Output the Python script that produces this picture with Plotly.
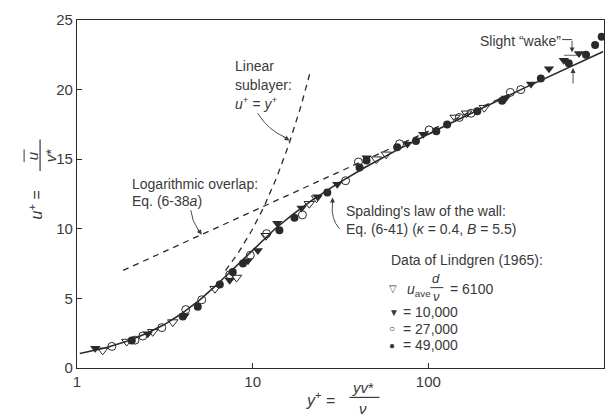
import numpy as np
import plotly.graph_objects as go

# ---------------- data ----------------
kappa = 0.4
B = 5.5

a_x = [1.40, 1.92, 2.70, 3.51, 6.1, 8.1, 11.9, 21.0, 23.1, 50.6, 57.5, 142, 165, 208]
a_y = [1.27, 1.9, 2.6, 3.3, 5.7, 6.5, 9.5, 11.8, 12.2, 15.0, 15.35, 18.0, 18.3, 18.7]

b_x = [1.27, 2.53, 4.1, 7.4, 9.4, 10.7, 13.8, 19.0, 23.4, 30.3, 44.5, 76, 93.5, 276, 384, 486, 590, 720]
b_y = [1.41, 2.46, 3.75, 6.3, 7.7, 8.45, 10.4, 11.5, 12.3, 13.2, 15.1, 16.1, 16.8, 19.4, 20.4, 21.5, 22.1, 22.6]

c_x = [1.58, 2.14, 2.37, 3.04, 4.16, 5.13, 7.4, 9.7, 12.0, 19.2, 33.8, 40, 68.6, 101, 150, 175, 293, 336]
c_y = [1.55, 2.0, 2.3, 2.9, 4.2, 4.9, 6.7, 8.1, 9.65, 11.0, 13.45, 14.8, 16.1, 17.1, 18.0, 18.3, 19.8, 20.0]

d_x = [2.05, 4.0, 4.87, 6.5, 7.7, 8.8, 14.2, 17.3, 26.6, 40.6, 44.5, 66.5, 85, 111, 128, 190, 263, 437, 630, 790, 890, 970]
d_y = [1.97, 3.7, 4.4, 6.0, 6.9, 7.5, 9.9, 10.8, 12.6, 14.4, 14.9, 15.85, 16.3, 17.0, 17.5, 18.45, 19.2, 20.8, 21.9, 22.5, 23.2, 23.8]

lin_range = [7.0, 21.3]
log_range = [1.83, 300]

x_ticks = [1, 10, 100, 1000]
x_ticklabels = ["1", "10", "100", "1000"]
y_ticks = [0, 5, 10, 15, 20, 25]

# ---------------- curves ----------------
up = np.linspace(0, 23, 600)
ku = kappa * up
yp = up + np.exp(-kappa * B) * (np.exp(ku) - 1 - ku - ku**2 / 2 - ku**3 / 6)
m = (yp >= 1) & (yp <= 1000)
spald_x, spald_y = yp[m], up[m]

lin_x = np.geomspace(lin_range[0], lin_range[1], 50)
lin_y = lin_x
log_x = np.geomspace(log_range[0], log_range[1], 50)
log_y = np.log(log_x) / kappa + B

INK = "#2a2a2a"
TXT = "#3a3a3a"
FONT = "Liberation Sans, Arial, sans-serif"

fig = go.Figure()
fig.add_trace(go.Scatter(x=log_x, y=log_y, mode="lines",
                         line=dict(color=INK, width=1.3, dash="6px,5px")))
fig.add_trace(go.Scatter(x=lin_x, y=lin_y, mode="lines",
                         line=dict(color=INK, width=1.3, dash="6px,5px")))
fig.add_trace(go.Scatter(x=spald_x, y=spald_y, mode="lines",
                         line=dict(color=INK, width=1.6)))

fig.add_trace(go.Scatter(x=a_x, y=a_y, mode="markers",
                         marker=dict(symbol="triangle-down-open", size=9, color=INK, line=dict(width=1))))
fig.add_trace(go.Scatter(x=b_x, y=b_y, mode="markers",
                         marker=dict(symbol="triangle-down", size=9, color=INK, line=dict(width=0))))
fig.add_trace(go.Scatter(x=c_x, y=c_y, mode="markers",
                         marker=dict(symbol="circle-open", size=8, color=INK, line=dict(width=1))))
fig.add_trace(go.Scatter(x=d_x, y=d_y, mode="markers",
                         marker=dict(symbol="circle", size=8, color=INK, line=dict(width=0))))

# ---------------- pixel helpers (plot area: x 77..605, y 13..368) ----------------
L, R, T, Bm = 77, 605, 13, 368
W, H = R - L, Bm - T


def px(x):
    return (x - L) / W


def py(y):
    return (Bm - y) / H


ann = []
shapes = []


def text(x, y, s, size=14, xa="left", ya="middle", angle=0):
    ann.append(dict(x=px(x), y=py(y), xref="paper", yref="paper", text=s,
                    showarrow=False, xanchor=xa, yanchor=ya, textangle=angle,
                    font=dict(size=size, color=TXT, family=FONT)))


def arrow(x0, y0, x1, y1):
    ann.append(dict(x=px(x1), y=py(y1), xref="paper", yref="paper",
                    ax=x0 - x1, ay=y0 - y1, text="", showarrow=True,
                    arrowhead=2, arrowsize=1.1, arrowwidth=0.9, arrowcolor=TXT))


def curve(x0, y0, cx, cy, x1, y1):
    shapes.append(dict(type="path", xref="paper", yref="paper",
                       path=f"M {px(x0)},{py(y0)} Q {px(cx)},{py(cy)} {px(x1)},{py(y1)}",
                       line=dict(color=TXT, width=0.9)))


def hline(x0, x1, y, w=1):
    shapes.append(dict(type="line", xref="paper", yref="paper",
                       x0=px(x0), x1=px(x1), y0=py(y), y1=py(y),
                       line=dict(color=TXT, width=w)))


def vline(x, y0, y1, w=1):
    shapes.append(dict(type="line", xref="paper", yref="paper",
                       x0=px(x), x1=px(x), y0=py(y0), y1=py(y1),
                       line=dict(color=TXT, width=w)))


# Linear sublayer label
text(233, 60, "Linear")
text(233, 79, "sublayer:")
text(233, 98, "<i>u</i><sup>+</sup> = <i>y</i><sup>+</sup>")
curve(258, 108, 268, 125, 286, 133)
arrow(282, 131, 290, 136)

# Log overlap label
text(130, 180, "Logarithmic overlap:")
text(130, 198, "Eq. (6-38<i>a</i>)")
curve(191, 207, 192, 218, 199, 228)
arrow(197, 225, 202, 232)

# Spalding label
text(345, 208, "Spalding's law of the wall:")
text(345, 226, "Eq. (6-41) (<i>κ</i> = 0.4, <i>B</i> = 5.5)")
curve(340, 226, 331, 216, 333, 200)
arrow(333, 202, 333, 194)

# Slight wake
text(479, 34, "Slight \u201cwake\u201d")
hline(563, 573, 33)
arrow(573, 33, 573, 46)
hline(565, 579, 49, 0.8)
arrow(574, 79, 574, 62)

# Legend block
text(390, 258, "Data of Lindgren (1965):")
text(388, 287, "▽", size=10)
text(406, 288, "<i>u</i><sub>ave</sub>")
text(437, 277, "<i>d</i>", size=13, xa="center")
hline(431, 444, 286)
text(437, 295, "<i>ν</i>", size=13, xa="center")
text(449, 287, "= 6100")
text(388, 311, "▼", size=10)
text(402, 311, "= 10,000")
text(388, 328, "○", size=10)
text(402, 328, "= 27,000")
text(388, 345, "●", size=10)
text(402, 345, "= 49,000")

# x axis title
text(343, 400, "<i>y</i><sup>+</sup> = ", size=16, xa="right")
text(364, 388, "<i>yv</i>*", size=15, xa="center")
hline(350, 380, 398, 1.2)
text(364, 409, "<i>ν</i>", size=15, xa="center")

# y axis title (rotated)
text(36, 199, "<i>u</i><sup>+</sup> = ", size=16, xa="center", ya="middle", angle=-90)
text(32, 152, "<i>u</i>", size=15, xa="center", angle=-90)
vline(24, 145, 158, 1)   # overbar on u
vline(40, 135, 167, 1.2)  # fraction bar
text(50, 151, "<i>v</i>*", size=15, xa="center", angle=-90)

fig.update_layout(
    width=616, height=418,
    margin=dict(l=L, r=616 - R, t=T, b=418 - Bm),
    paper_bgcolor="white", plot_bgcolor="white",
    showlegend=False,
    annotations=ann, shapes=shapes,
    font=dict(family=FONT, color=TXT, size=15),
)
fig.update_xaxes(type="log", range=[0, 3], tickvals=x_ticks, ticktext=x_ticklabels,
                 ticks="inside", ticklen=5, tickcolor=INK, showgrid=False, zeroline=False,
                 showline=True, linecolor=INK, linewidth=1.2, mirror=True,
                 tickfont=dict(size=15, color=TXT, family=FONT))
fig.update_yaxes(range=[0, 25], tickvals=y_ticks,
                 ticks="inside", ticklen=5, tickcolor=INK, showgrid=False, zeroline=False,
                 showline=True, linecolor=INK, linewidth=1.2, mirror=True,
                 tickfont=dict(size=15, color=TXT, family=FONT))

fig.write_html("out.html")
